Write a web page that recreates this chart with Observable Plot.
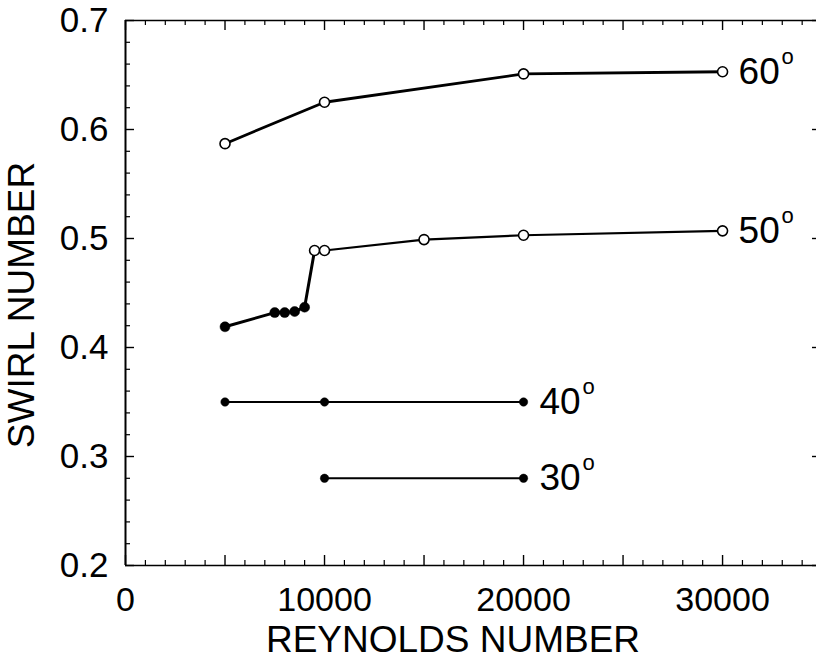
<!DOCTYPE html>
<html><head><meta charset="utf-8">
<script src="https://cdn.jsdelivr.net/npm/d3@7"></script>
<script src="https://cdn.jsdelivr.net/npm/@observablehq/plot@0.6"></script>
<style>body{margin:0;background:#fff}</style>
</head><body><div id="chart"></div>
<script>
// Data
const re60 = [5000, 10000, 20000, 30000];
const s60  = [0.587, 0.625, 0.651, 0.653];
const re50 = [5000, 7500, 8000, 8500, 9000, 9500, 10000, 15000, 20000, 30000];
const s50  = [0.419, 0.432, 0.432, 0.433, 0.437, 0.489, 0.489, 0.499, 0.503, 0.507];
const filled50 = [true, true, true, true, true, false, false, false, false, false];
const re40 = [5000, 10000, 20000];
const s40  = [0.35, 0.35, 0.35];
const re30 = [10000, 20000];
const s30  = [0.28, 0.28];
const seriesLabels = ["60", "50", "40", "30"];
const xTickLabels = [0, 10000, 20000, 30000];
const yTickLabels = [0.2, 0.3, 0.4, 0.5, 0.6, 0.7];
const xMinorTicks = d3.range(0, 34001, 1000);
const yMinorTicks = d3.range(0.2, 0.7001, 0.02).map(v => +v.toFixed(2));

const mk = (re, s, name, filled) => re.map((r, i) => ({re: r, s: s[i], series: name, filled: filled ? filled[i] : true}));
const d60 = mk(re60, s60, "60", re60.map(() => false));
const d50 = mk(re50, s50, "50", filled50);
const d40 = mk(re40, s40, "40");
const d30 = mk(re30, s30, "30");
const all = [...d60, ...d50, ...d40, ...d30];
const lastPts = [d60, d50, d40, d30].map((d, i) => ({...d[d.length - 1], label: seriesLabels[i]}));

const W = 816, H = 662, mL = 125, mR = 0, mT = 20, mB = 97;
const fw = W - mL - mR, fh = H - mT - mB;
const font = "'Liberation Sans', Arial, Helvetica, sans-serif";

const isMajorX = v => v % 5000 === 0;
const isMajorY = v => Math.abs(v * 10 - Math.round(v * 10)) < 1e-6;

const chart = Plot.plot({
  width: W, height: H,
  marginLeft: mL, marginRight: mR, marginTop: mT, marginBottom: mB,
  style: {fontFamily: font, color: "#000", background: "#fff"},
  x: {domain: [0, 34720], label: null},
  y: {domain: [0.2, 0.7], label: null},
  marks: [
    // frame lines (top, bottom, left)
    Plot.ruleY([yTickLabels[0], yTickLabels[yTickLabels.length - 1]], {stroke: "#000", strokeWidth: 1.6}),
    Plot.ruleX([xTickLabels[0]], {stroke: "#000", strokeWidth: 2}),
    // inward ticks
    Plot.ruleX(xMinorTicks.filter(v => !isMajorX(v)), {insetTop: fh - 5, stroke: "#000", strokeWidth: 1.2}),
    Plot.ruleX(xMinorTicks.filter(isMajorX), {insetTop: fh - 10, stroke: "#000", strokeWidth: 1.4}),
    Plot.ruleX(xMinorTicks.filter(v => !isMajorX(v)), {insetBottom: fh - 5, stroke: "#000", strokeWidth: 1.2}),
    Plot.ruleX(xMinorTicks.filter(isMajorX), {insetBottom: fh - 10, stroke: "#000", strokeWidth: 1.4}),
    Plot.ruleY(yMinorTicks.filter(v => !isMajorY(v)), {insetRight: fw - 5, stroke: "#000", strokeWidth: 1.2}),
    Plot.ruleY(yMinorTicks.filter(isMajorY), {insetRight: fw - 9, stroke: "#000", strokeWidth: 1.4}),
    Plot.ruleY(yMinorTicks.filter(isMajorY), {insetLeft: fw - 4, stroke: "#000", strokeWidth: 1.4}),
    // axes labels
    Plot.axisX({ticks: xTickLabels, tickSize: 0, tickPadding: 21, fontSize: 34, tickFormat: d => String(d), label: null}),
    Plot.axisY({ticks: yTickLabels, tickSize: 0, tickPadding: 17, fontSize: 35, tickFormat: d3.format(".1f"), label: null}),
    Plot.text(["REYNOLDS NUMBER"], {frameAnchor: "bottom", lineAnchor: "top", dy: 60, dx: -18, fontSize: 37}),
    Plot.text(["SWIRL NUMBER"], {frameAnchor: "left", rotate: -90, textAnchor: "middle", lineAnchor: "middle", dx: -103, dy: 12, fontSize: 37}),
    // series lines
    Plot.line(d60, {x: "re", y: "s", stroke: "#000", strokeWidth: 2.8}),
    Plot.line(d50.filter(d => d.filled || d.re <= 9500), {x: "re", y: "s", stroke: "#000", strokeWidth: 3}),
    Plot.line(d50.filter(d => !d.filled), {x: "re", y: "s", stroke: "#000", strokeWidth: 2.2}),
    Plot.line(d40, {x: "re", y: "s", stroke: "#000", strokeWidth: 2}),
    Plot.line(d30, {x: "re", y: "s", stroke: "#000", strokeWidth: 2}),
    // markers
    Plot.dot(all.filter(d => d.filled && (d.series === "50")), {x: "re", y: "s", r: 5, fill: "#000", stroke: "#000", strokeWidth: 0.5}),
    Plot.dot(all.filter(d => d.filled && (d.series === "40" || d.series === "30")), {x: "re", y: "s", r: 4.2, fill: "#000", stroke: "#000", strokeWidth: 0.5}),
    Plot.dot(all.filter(d => !d.filled), {x: "re", y: "s", r: 5, fill: "#fff", stroke: "#000", strokeWidth: 1.6}),
    // series labels
    Plot.text(lastPts, {x: "re", y: "s", text: "label", textAnchor: "start", lineAnchor: "middle", dx: 16, fontSize: 37}),
    Plot.text(lastPts, {x: "re", y: "s", text: () => "o", textAnchor: "start", lineAnchor: "middle", dx: 59, dy: -15, fontSize: 22})
  ]
});
document.getElementById("chart").appendChild(chart);
</script>
</body></html>
